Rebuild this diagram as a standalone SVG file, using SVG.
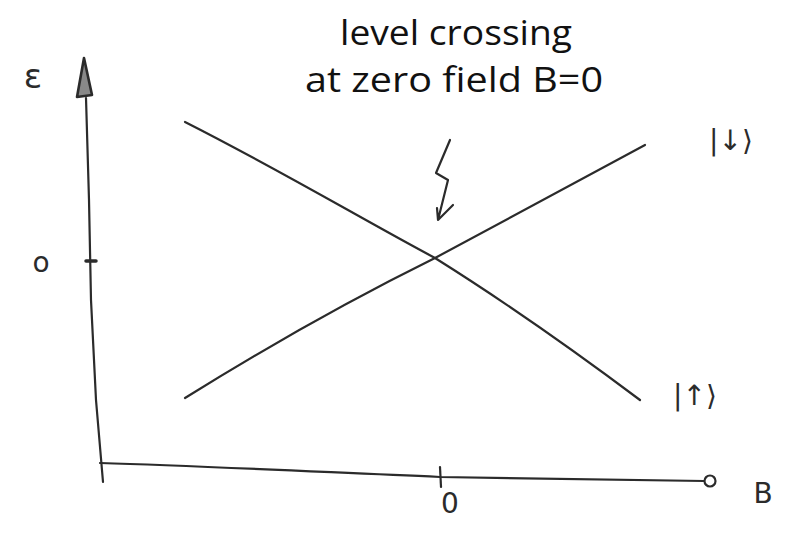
<svg xmlns="http://www.w3.org/2000/svg" width="785" height="536" viewBox="0 0 785 536">
<style>
.ink{fill:none;stroke:#2b2b2b;stroke-width:2.2;stroke-linecap:round;stroke-linejoin:round}
.hand{font-family:"DejaVu Sans","Noto Sans",sans-serif;fill:#2b2b2b}
.title{font-family:"Open Sans","Noto Sans",sans-serif;font-size:35px;fill:#111;text-anchor:middle}
</style>
<rect width="785" height="536" fill="#fff"/>
<g id="title">
<text class="title" x="456" y="45" textLength="232" lengthAdjust="spacingAndGlyphs">level crossing</text>
<text class="title" x="454" y="92" textLength="298" lengthAdjust="spacingAndGlyphs">at zero field B=0</text>
</g>
<g id="axes">
<path class="ink" d="M86,98 L89,200 L91,300 L96,400 L103,482"/>
<path class="ink" d="M84,58 L77,97 L92,95 Z" style="fill:#888;stroke-width:2.6"/>
<path class="ink" d="M100,463 C200,466 300,471 440,477 C560,479 640,480 704,481"/>
<circle class="ink" cx="710" cy="481" r="5.5"/>
<path class="ink" d="M86,261 L96,261" style="stroke-width:3.5"/>
<path class="ink" d="M440,467 L441,487"/>
<text class="hand" x="33" y="88" font-size="34" text-anchor="middle">ε</text>
<text class="hand" x="41" y="272" font-size="28" text-anchor="middle">o</text>
<text class="hand" x="450" y="513" font-size="28" text-anchor="middle">0</text>
<text class="hand" x="763" y="503" font-size="28" text-anchor="middle">B</text>
</g>
<g id="connectors">
<path class="ink" d="M185,122 C280,170 360,218 435,258 C510,305 580,355 640,400"/>
<path class="ink" d="M185,398 C270,345 350,300 435,258 C510,218 580,180 645,145"/>
<path class="ink" d="M450,140 L436,173 L448,180 L438,220 L453,205 M437,208 L438,220"/>
</g>
<g id="state-down">
<text class="hand" x="731" y="150" font-size="28" text-anchor="middle">|↓⟩</text>
</g>
<g id="state-up">
<text class="hand" x="695" y="405" font-size="28" text-anchor="middle">|↑⟩</text>
</g>
</svg>
